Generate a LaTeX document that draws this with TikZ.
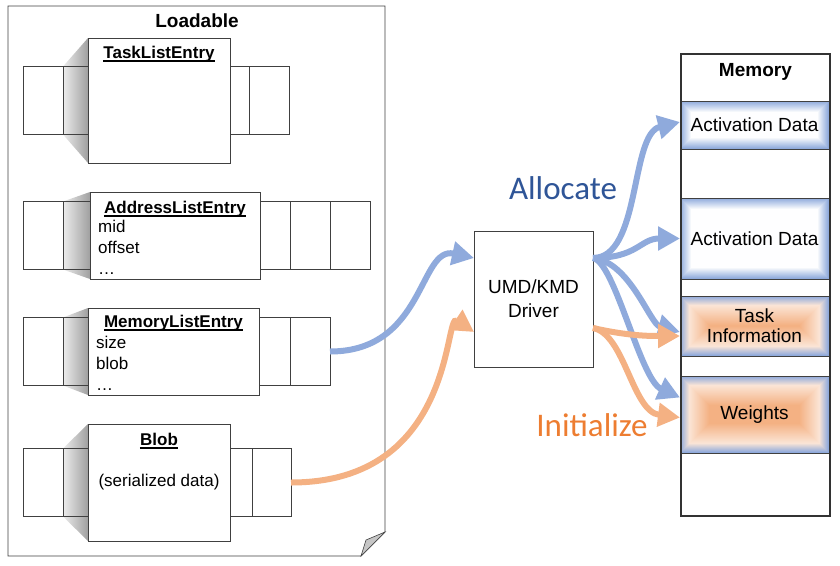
\documentclass[tikz,border=0pt]{standalone}
\usepackage{fontspec}
\setmainfont{Liberation Sans}
\newfontfamily\labelfont{Carlito}
\usetikzlibrary{arrows.meta,positioning,backgrounds}

\definecolor{linegray}{HTML}{404040}
\definecolor{arrowblue}{HTML}{8FAADC}
\definecolor{arroworange}{HTML}{F4B183}
\definecolor{allocblue}{HTML}{2F5597}
\definecolor{initorange}{HTML}{ED7D31}
\definecolor{peach}{HTML}{FBE5D6}

\newcommand{\titlefont}{\bfseries\fontsize{17}{20}\selectfont}
\newcommand{\fieldfont}{\fontsize{17}{21}\selectfont}
\newcommand{\cellfont}{\fontsize{19}{20}\selectfont}

\tikzset{
  entry/.style={draw=linegray, fill=white, line width=0.8pt, inner sep=0pt, outer sep=0pt, anchor=north west, font=\fieldfont},
  side/.style={draw=linegray, line width=0.8pt, inner sep=0pt, outer sep=0pt, minimum height=68pt},
  entrytitle/.style={font=\titlefont, inner sep=0pt},
  fields/.style={font=\fieldfont, align=left, inner sep=0pt, anchor=north west},
  cell/.style={draw=linegray, line width=0.8pt, inner sep=0pt, outer sep=0pt, minimum width=149pt, anchor=north west, font=\cellfont, align=center},
  bluecell/.style={cell, path picture={
    \foreach \d in {0,...,11}{
      \pgfmathtruncatemacro\m{100-9*\d}
      \fill[arrowblue!\m!white] ([shift={(\d*1pt,-\d*1pt)}]path picture bounding box.north west)
        rectangle ([shift={(-\d*1pt,\d*1pt)}]path picture bounding box.south east);
    }}},
  orangecell/.style={cell, path picture={
    \foreach \d in {0,...,#1}{
      \pgfmathtruncatemacro\b{max(0,100-11*\d)}
      \pgfmathtruncatemacro\o{min(100,max(0,5*(\d-9)))}
      \colorlet{glowin}{arroworange!\o!peach}
      \fill[arrowblue!\b!glowin] ([shift={(\d*1pt,-\d*1pt)}]path picture bounding box.north west)
        rectangle ([shift={(-\d*1pt,\d*1pt)}]path picture bounding box.south east);
    }}},
  bluearrow/.style={-{Triangle[length=22pt,width=23pt]}, line width=6pt, draw=arrowblue},
  orangearrow/.style={-{Triangle[length=22pt,width=23pt]}, line width=6pt, draw=arroworange}
}

\begin{document}
\begin{tikzpicture}[x=1pt, y=-1pt]
  \useasboundingbox (0,0) rectangle (840,565);

  % Loadable
  \node[font=\bfseries\fontsize{19}{22}\selectfont] (loadtitle) at (197,21) {Loadable};

  \node[entry, minimum width=142pt, minimum height=125pt] (task) at (88,38) {};
  \node[entrytitle, below=8pt of task.north] (tasktitle) {TaskListEntry};
  \node[side, minimum width=25pt, left=0pt of task] (taskL2) {};
  \node[side, minimum width=40pt, left=0pt of taskL2] (taskL1) {};
  \node[side, minimum width=19pt, right=0pt of task] (taskR1) {};
  \node[side, minimum width=40pt, right=0pt of taskR1] (taskR2) {};

  \node[entry, minimum width=170pt, minimum height=87pt] (addr) at (90,192) {};
  \node[entrytitle, below=9pt of addr.north] (addrtitle) {AddressListEntry};
  \node[fields, below right=28pt and 8pt of addr.north west] (addrfields) {mid\\offset\\\dots};
  \node[side, minimum width=27pt, left=0pt of addr] (addrL2) {};
  \node[side, minimum width=40pt, left=0pt of addrL2] (addrL1) {};
  \node[side, minimum width=30pt, right=0pt of addr] (addrR1) {};
  \node[side, minimum width=40pt, right=0pt of addrR1] (addrR2) {};
  \node[side, minimum width=40pt, right=0pt of addrR2] (addrR3) {};

  \node[entry, minimum width=171pt, minimum height=87pt] (memo) at (88,308) {};
  \node[entrytitle, below=7pt of memo.north] (memotitle) {MemoryListEntry};
  \node[fields, below right=28pt and 8pt of memo.north west] (memofields) {size\\blob\\\dots};
  \node[side, minimum width=25pt, left=0pt of memo] (memoL2) {};
  \node[side, minimum width=40pt, left=0pt of memoL2] (memoL1) {};
  \node[side, minimum width=31pt, right=0pt of memo] (memoR1) {};
  \node[side, minimum width=40pt, right=0pt of memoR1] (memoR2) {};

  \node[entry, minimum width=142pt, minimum height=117pt] (blob) at (88,424) {(serialized data)};
  \node[entrytitle, below=9pt of blob.north] (blobtitle) {Blob};
  \node[side, minimum width=25pt, left=0pt of blob] (blobL2) {};
  \node[side, minimum width=40pt, left=0pt of blobL2] (blobL1) {};
  \node[side, minimum width=22pt, right=0pt of blob] (blobR1) {};
  \node[side, minimum width=39pt, right=0pt of blobR1] (blobR2) {};

  \foreach \t in {tasktitle,addrtitle,memotitle,blobtitle}
    \draw[line width=1.3pt] ([yshift=-2.6pt]\t.base west) -- ([yshift=-2.6pt]\t.base east);

  \begin{scope}[on background layer]
    \draw[draw=linegray, fill=white, line width=0.8pt] (8,6) -- (385,6) -- (385,532) -- (361,556) -- (8,556) -- cycle;
    \filldraw[fill=gray!45, draw=linegray, line width=0.6pt] (361,556) .. controls (363,548) .. (366,540) -- (385,532) -- cycle;
    \foreach \e in {task,addr,memo,blob}
      \shade[left color=gray!15, right color=gray!75] (\e L2.north west) -- (\e.north west) -- (\e.south west) -- (\e L2.south west) -- cycle;
  \end{scope}

  % driver
  \node[draw=linegray, line width=0.8pt, inner sep=0pt, outer sep=0pt, minimum width=119pt, minimum height=136pt,
        anchor=north west, align=center, font=\fontsize{19}{24}\selectfont] (driver) at (474,231) {UMD/KMD\\Driver};
  \coordinate (drvinB) at ([yshift=-27pt]driver.north west);
  \coordinate (drvinO) at ([yshift=35pt]driver.south west);
  \coordinate (drvoutB) at ([yshift=-27pt]driver.north east);
  \coordinate (drvoutO) at ([yshift=-97pt]driver.north east);

  % Memory
  \node[bluecell, minimum height=48pt] (act1) at (680,101) {Activation Data};
  \node[bluecell, minimum height=81pt] (act2) at (680,198) {Activation Data};
  \node[orangecell=29, minimum height=60pt] (taskinfo) at (680,296) {Task\\Information};
  \node[orangecell=37, minimum height=77pt] (weights) at (680,376) {Weights};
  \node[draw=black!80, line width=1.8pt, inner sep=0pt, minimum width=149pt, minimum height=462pt, anchor=north west] (mem) at (680,53) {};
  \node[entrytitle, font=\bfseries\fontsize{19}{20}\selectfont, below=10pt of mem.north] (memtitle) {Memory};

  \draw[bluearrow] (memoR2.east) .. controls +(95,0) and +(-55,-12) .. (drvinB);
  \draw[orangearrow] (blobR2.east) .. controls +(165,0) and +(-30,-20) .. (drvinO);

  \draw[bluearrow] (drvoutB) .. controls +(48,0) and +(-50,12) .. ([yshift=3pt]act1.west);
  \draw[bluearrow] (drvoutB) .. controls +(45,0) and +(-40,0) .. (act2.west);
  \draw[bluearrow] (drvoutB) .. controls +(37,4) and +(-30,-8) .. ([yshift=-6pt]taskinfo.west);
  \draw[bluearrow] (drvoutB) .. controls +(22,4) and +(-40,-18) .. ([yshift=17pt]weights.west);
  \draw[orangearrow] (drvoutO) .. controls +(35,8) and +(-30,0) .. ([yshift=-10pt]taskinfo.west);
  \draw[orangearrow] (drvoutO) .. controls +(32,6) and +(-48,-6) .. ([yshift=-3pt]weights.west);

  \node[font=\labelfont\fontsize{33}{36}\selectfont, text=allocblue] (alloc) at (563,188) {Allocate};
  \node[font=\labelfont\fontsize{33}{36}\selectfont, text=initorange] (init) at (592,425) {Initialize};
\end{tikzpicture}
\end{document}
